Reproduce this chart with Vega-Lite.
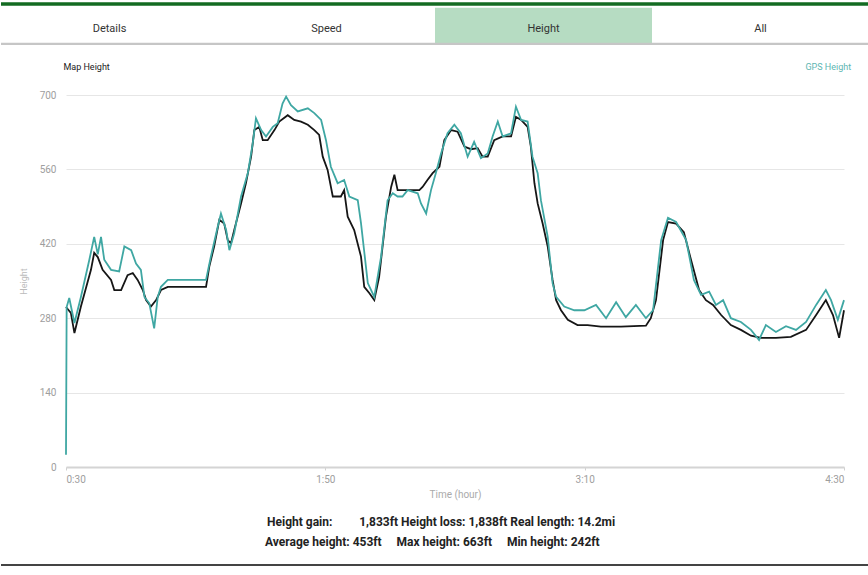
{
  "$schema": "https://vega.github.io/schema/vega-lite/v6.json",
  "padding": 0,
  "background": "white",
  "bounds": "flush",
  "spacing": 50,
  "config": {"view": {"stroke": null}, "font": "Roboto"},
  "resolve": {"scale": {"x": "independent", "y": "independent", "color": "independent"}},
  "datasets": {
    "map": [{"t":30,"h":301},{"t":31.5,"h":290},{"t":32.6,"h":252},{"t":34.6,"h":302},{"t":37.7,"h":371},{"t":38.7,"h":403},{"t":39.8,"h":395},{"t":41.3,"h":371},{"t":43.9,"h":352},{"t":44.9,"h":333},{"t":47,"h":333},{"t":49,"h":361},{"t":50.6,"h":365},{"t":52.1,"h":352},{"t":53.7,"h":333},{"t":54.7,"h":314},{"t":56.2,"h":302},{"t":57.8,"h":314},{"t":59.3,"h":333},{"t":61.4,"h":339},{"t":73.2,"h":339},{"t":74.2,"h":377},{"t":75.7,"h":415},{"t":77.3,"h":465},{"t":78.8,"h":458},{"t":79.9,"h":427},{"t":80.9,"h":421},{"t":81.9,"h":446},{"t":84,"h":496},{"t":85.5,"h":534},{"t":87.1,"h":584},{"t":88.1,"h":634},{"t":89.6,"h":640},{"t":90.7,"h":615},{"t":92.2,"h":615},{"t":94.3,"h":634},{"t":95.8,"h":650},{"t":98.4,"h":662},{"t":100.4,"h":653},{"t":102.5,"h":650},{"t":104.6,"h":644},{"t":106.6,"h":634},{"t":108.1,"h":625},{"t":109.2,"h":584},{"t":110.7,"h":559},{"t":112.3,"h":509},{"t":114.8,"h":509},{"t":115.8,"h":521},{"t":116.9,"h":471},{"t":118.9,"h":446},{"t":121,"h":396},{"t":122,"h":339},{"t":123.6,"h":327},{"t":125.1,"h":314},{"t":126.6,"h":358},{"t":128.7,"h":471},{"t":130.3,"h":527},{"t":131.3,"h":550},{"t":132.3,"h":521},{"t":139,"h":521},{"t":140,"h":527},{"t":141.5,"h":540},{"t":143.1,"h":553},{"t":145.2,"h":565},{"t":146.7,"h":615},{"t":148.8,"h":634},{"t":150.8,"h":631},{"t":152.9,"h":603},{"t":154.9,"h":598},{"t":157,"h":600},{"t":158.5,"h":584},{"t":160.1,"h":584},{"t":162.1,"h":615},{"t":164.7,"h":622},{"t":167.3,"h":622},{"t":168.8,"h":659},{"t":170.4,"h":653},{"t":172.4,"h":640},{"t":173.4,"h":603},{"t":174.5,"h":534},{"t":175.5,"h":496},{"t":177,"h":459},{"t":178.6,"h":415},{"t":180.1,"h":352},{"t":181.2,"h":314},{"t":182.7,"h":295},{"t":184.8,"h":277},{"t":187.8,"h":267},{"t":190.9,"h":267},{"t":195,"h":264},{"t":201.2,"h":264},{"t":208.9,"h":266},{"t":210.4,"h":280},{"t":212,"h":314},{"t":214.2,"h":427},{"t":215.7,"h":461},{"t":218.2,"h":458},{"t":220.6,"h":442},{"t":222.8,"h":390},{"t":225.3,"h":333},{"t":227.4,"h":314},{"t":229.6,"h":305},{"t":232.1,"h":286},{"t":235.1,"h":267},{"t":238.2,"h":258},{"t":241.3,"h":247},{"t":244.4,"h":243},{"t":249,"h":243},{"t":253.6,"h":245},{"t":258.3,"h":258},{"t":261.4,"h":286},{"t":264.4,"h":314},{"t":266.6,"h":286},{"t":268.5,"h":243},{"t":270,"h":295}],
    "gps": [{"t":30,"h":23},{"t":30.2,"h":301},{"t":31,"h":318},{"t":32.6,"h":271},{"t":34.6,"h":320},{"t":37.2,"h":390},{"t":38.7,"h":433},{"t":39.8,"h":400},{"t":40.8,"h":433},{"t":41.8,"h":390},{"t":43.9,"h":371},{"t":46.4,"h":368},{"t":48,"h":415},{"t":50.1,"h":408},{"t":51.6,"h":383},{"t":53.1,"h":371},{"t":54.2,"h":320},{"t":55.7,"h":308},{"t":57.2,"h":261},{"t":58.3,"h":320},{"t":59.3,"h":339},{"t":61.4,"h":352},{"t":73.2,"h":352},{"t":74.7,"h":396},{"t":76.8,"h":452},{"t":77.8,"h":477},{"t":79.4,"h":446},{"t":80.4,"h":408},{"t":81.9,"h":440},{"t":84,"h":509},{"t":86.1,"h":553},{"t":87.6,"h":609},{"t":88.6,"h":656},{"t":90.2,"h":634},{"t":91.7,"h":622},{"t":93.8,"h":640},{"t":95.3,"h":647},{"t":96.8,"h":684},{"t":97.9,"h":697},{"t":99.4,"h":681},{"t":101.5,"h":669},{"t":104.6,"h":675},{"t":106.6,"h":666},{"t":108.7,"h":653},{"t":110.2,"h":615},{"t":111.7,"h":565},{"t":113.8,"h":534},{"t":115.8,"h":540},{"t":117.4,"h":509},{"t":120,"h":502},{"t":121,"h":459},{"t":123.1,"h":346},{"t":125.1,"h":320},{"t":127.2,"h":396},{"t":129.2,"h":502},{"t":130.8,"h":515},{"t":132.3,"h":509},{"t":133.8,"h":509},{"t":135.4,"h":521},{"t":138.5,"h":515},{"t":139.5,"h":496},{"t":141.1,"h":477},{"t":142.6,"h":521},{"t":144.1,"h":553},{"t":145.7,"h":590},{"t":147.7,"h":628},{"t":149.8,"h":644},{"t":151.8,"h":628},{"t":153.9,"h":584},{"t":155.9,"h":612},{"t":158,"h":581},{"t":160.1,"h":590},{"t":161.6,"h":622},{"t":163.2,"h":650},{"t":164.7,"h":622},{"t":167.3,"h":628},{"t":168.8,"h":678},{"t":170.4,"h":653},{"t":172.4,"h":650},{"t":173.9,"h":584},{"t":175.5,"h":553},{"t":176.5,"h":502},{"t":178.6,"h":433},{"t":180.1,"h":346},{"t":181.2,"h":320},{"t":183.7,"h":302},{"t":186.8,"h":295},{"t":189.9,"h":295},{"t":193.5,"h":305},{"t":196.6,"h":280},{"t":199.7,"h":310},{"t":202.7,"h":282},{"t":205.8,"h":305},{"t":208.9,"h":280},{"t":211.1,"h":295},{"t":213.6,"h":427},{"t":215.7,"h":469},{"t":218.2,"h":461},{"t":221.3,"h":427},{"t":223.7,"h":352},{"t":225.9,"h":324},{"t":228.4,"h":330},{"t":230.5,"h":305},{"t":232.7,"h":314},{"t":235.1,"h":280},{"t":238.2,"h":273},{"t":241.3,"h":258},{"t":243.8,"h":239},{"t":245.9,"h":267},{"t":249,"h":254},{"t":252.1,"h":265},{"t":255.2,"h":258},{"t":258.3,"h":273},{"t":261.4,"h":305},{"t":264.4,"h":333},{"t":266,"h":314},{"t":268.1,"h":277},{"t":270,"h":314}]
  },
  "vconcat": [
    {
      "width": 778,
      "height": 45,
      "data": {"values": [{"tab": "Details", "state": "idle"}, {"tab": "Speed", "state": "idle"}, {"tab": "Height", "state": "active"}, {"tab": "All", "state": "idle"}]},
      "encoding": {
        "x": {"field": "tab", "type": "nominal", "sort": null, "scale": {"range": [-65, 803], "paddingInner": 0, "paddingOuter": 0}, "axis": null}
      },
      "layer": [
        {
          "mark": {"type": "rect"},
          "encoding": {
            "y": {"datum": 0.17, "type": "quantitative", "scale": {"domain": [0, 1], "reverse": true, "nice": false, "zero": false}, "axis": null},
            "y2": {"datum": 0.96},
            "color": {"field": "state", "type": "nominal", "scale": {"domain": ["idle", "active"], "range": ["#ffffff", "#b6dcc2"]}, "legend": null}
          }
        },
        {
          "mark": {"type": "rect", "color": "#136b22"},
          "encoding": {"y": {"datum": 0.05, "type": "quantitative"}, "y2": {"datum": 0.13}}
        },
        {
          "mark": {"type": "rect", "color": "#c6c6c6"},
          "encoding": {"y": {"datum": 0.95, "type": "quantitative"}, "y2": {"datum": 1}}
        },
        {
          "mark": {"type": "text", "fontSize": 11, "color": "#333333", "baseline": "middle"},
          "encoding": {"y": {"datum": 0.64, "type": "quantitative"}, "text": {"field": "tab"}}
        }
      ]
    },
    {
      "width": 778,
      "height": 372,
      "layer": [
        {
          "data": {"name": "map"},
          "mark": {"type": "line", "strokeWidth": 1.8},
          "encoding": {
            "x": {"field": "t", "type": "quantitative", "scale": {"domain": [30, 270], "nice": false, "zero": false},
              "axis": {"values": [30, 110, 190, 270], "labelExpr": "floor(datum.value/60) + ':' + (datum.value % 60 < 10 ? '0' : '') + (datum.value % 60)", "title": "Time (hour)", "titleColor": "#aaaaaa", "titleFontSize": 10, "titleFontWeight": "normal", "titlePadding": 5, "labelColor": "#9e9e9e", "labelFontSize": 10, "labelPadding": 4, "tickColor": "#d0d0d0", "tickSize": 3, "domainColor": "#d4d4d4", "domainWidth": 2, "grid": false}},
            "y": {"field": "h", "type": "quantitative", "scale": {"domain": [0, 700], "nice": false},
              "axis": {"values": [0, 140, 280, 420, 560, 700], "title": "Height", "titleColor": "#bbbbbb", "titleFontSize": 9, "titleFontWeight": "normal", "titlePadding": 11, "labelColor": "#9e9e9e", "labelFontSize": 10, "labelPadding": 10, "ticks": false, "domain": false, "gridColor": "#e6e6e6", "gridWidth": 1}},
            "color": {"datum": "Map Height", "scale": {"domain": ["Map Height", "GPS Height"], "range": ["#161616", "#3fa7a3"]}, "legend": null}
          }
        },
        {
          "data": {"name": "gps"},
          "mark": {"type": "line", "strokeWidth": 1.8},
          "encoding": {
            "x": {"field": "t", "type": "quantitative"},
            "y": {"field": "h", "type": "quantitative"},
            "color": {"datum": "GPS Height"}
          }
        },
        {
          "data": {"values": [{"label": "Map Height"}]},
          "mark": {"type": "text", "align": "left", "baseline": "middle", "fontSize": 9, "color": "#222222"},
          "encoding": {"x": {"datum": 29.2, "type": "quantitative"}, "y": {"datum": 752, "type": "quantitative"}, "text": {"field": "label"}}
        },
        {
          "data": {"values": [{"label": "GPS Height"}]},
          "mark": {"type": "text", "align": "right", "baseline": "middle", "fontSize": 9, "color": "#5db6b2"},
          "encoding": {"x": {"datum": 272.2, "type": "quantitative"}, "y": {"datum": 752, "type": "quantitative"}, "text": {"field": "label"}}
        }
      ]
    },
    {
      "width": 778,
      "height": 50,
      "layer": [
        {
          "data": {"values": [{"line": "Height gain:\u00a0\u00a0\u00a0\u00a0\u00a0\u00a0\u00a0\u00a0 1,833ft Height loss: 1,838ft Real length: 14.2mi"}]},
          "mark": {"type": "text", "fontSize": 12, "fontWeight": "bold", "color": "#222222", "align": "center", "baseline": "middle"},
          "encoding": {
            "x": {"datum": 0.507, "type": "quantitative", "scale": {"domain": [0, 1], "range": [-65, 803], "nice": false, "zero": false}, "axis": null},
            "y": {"datum": 0.1, "type": "quantitative", "scale": {"domain": [0, 1], "reverse": true, "nice": false, "zero": false}, "axis": null},
            "text": {"field": "line"}
          }
        },
        {
          "data": {"values": [{"line": "Average height: 453ft\u00a0\u00a0\u00a0\u00a0 Max height: 663ft\u00a0\u00a0\u00a0\u00a0 Min height: 242ft"}]},
          "mark": {"type": "text", "fontSize": 12, "fontWeight": "bold", "color": "#222222", "align": "center", "baseline": "middle"},
          "encoding": {
            "x": {"datum": 0.497, "type": "quantitative"},
            "y": {"datum": 0.5, "type": "quantitative"},
            "text": {"field": "line"}
          }
        },
        {
          "data": {"values": [{"edge": "bottom"}]},
          "mark": {"type": "rule", "color": "#444444", "strokeWidth": 2},
          "encoding": {
            "x": {"datum": 0, "type": "quantitative"},
            "x2": {"datum": 1},
            "y": {"datum": 0.96, "type": "quantitative"}
          }
        }
      ]
    }
  ]
}
